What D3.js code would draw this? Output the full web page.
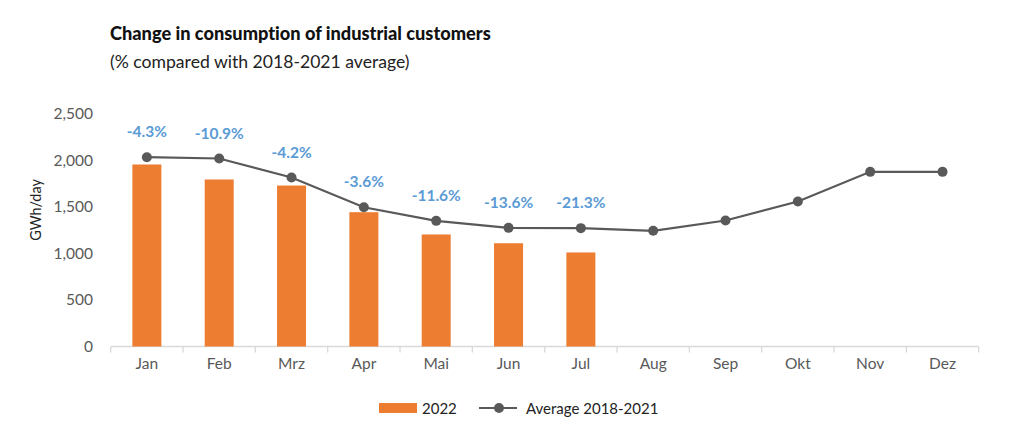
<!DOCTYPE html>
<html>
<head>
<meta charset="utf-8">
<script src="https://cdn.jsdelivr.net/npm/d3@7/dist/d3.min.js"></script>
<style>
  html, body { margin: 0; padding: 0; background: #ffffff; }
  svg { display: block; }
  text { font-variant-ligatures: none; }
</style>
</head>
<body>
<svg id="chart" width="1024" height="440"></svg>
<script>
const months = ["Jan","Feb","Mrz","Apr","Mai","Jun","Jul","Aug","Sep","Okt","Nov","Dez"];
const values2022 = [1953, 1792, 1727, 1441, 1202, 1108, 1009];
const avg20182021 = [2031, 2017, 1813, 1494, 1348, 1273, 1270, 1241, 1352, 1556, 1874, 1874];
const changeLabels = ["-4.3%","-10.9%","-4.2%","-3.6%","-11.6%","-13.6%","-21.3%"];
const yTicks = [0, 500, 1000, 1500, 2000, 2500];

const font = "Lato, 'Open Sans', sans-serif";
const svg = d3.select("#chart");

const x = d3.scaleBand().domain(months).range([110.7, 978.7]).paddingInner(0).paddingOuter(0);
const y = d3.scaleLinear().domain([0, 2500]).range([346.5, 113.5]);

// Title
svg.append("text").attr("x", 110).attr("y", 40)
  .style("font-family", font).style("font-weight", "900").style("font-size", "18.2px")
  .attr("fill", "#111").text("Change in consumption of industrial customers");
svg.append("text").attr("x", 110).attr("y", 68)
  .style("font-family", font).style("font-size", "17.6px")
  .attr("fill", "#222").text("(% compared with 2018-2021 average)");

// Y axis tick labels
const yAxis = d3.axisLeft(y).tickValues(yTicks).tickSize(0).tickPadding(0)
  .tickFormat(d3.format(","));
const gy = svg.append("g").attr("transform", "translate(93,0)").call(yAxis);
gy.select(".domain").remove();
gy.selectAll("text").style("font-family", font).style("font-size", "15.5px").attr("fill", "#595959");

// Y axis title
svg.append("text").attr("transform", "translate(41,210) rotate(-90)")
  .attr("text-anchor", "middle")
  .style("font-family", font).style("font-size", "14.4px").attr("fill", "#222")
  .text("GWh/day");

// X axis
const xAxisG = svg.append("g");
xAxisG.append("line").attr("x1", x.range()[0]).attr("x2", x.range()[1])
  .attr("y1", y(0)).attr("y2", y(0)).attr("stroke", "#d9d9d9").attr("stroke-width", 1.3);
const boundaries = months.map(m => x(m)).concat([x.range()[1]]);
xAxisG.selectAll("line.tick").data(boundaries).join("line").attr("class", "tick")
  .attr("x1", d => d).attr("x2", d => d).attr("y1", y(0)).attr("y2", y(0) + 6)
  .attr("stroke", "#d9d9d9").attr("stroke-width", 1.3);
const xAxis = d3.axisBottom(x).tickSize(0).tickPadding(0);
const gx = svg.append("g").attr("transform", "translate(0," + (y(0) + 11.5) + ")").call(xAxis);
gx.select(".domain").remove();
gx.selectAll("text").attr("dy", "0.71em").style("font-family", font).style("font-size", "15.5px").attr("fill", "#595959");

// Bars
const barW = 29;
svg.append("g").selectAll("rect").data(values2022).join("rect")
  .attr("x", (d, i) => x(months[i]) + x.bandwidth() / 2 - barW / 2)
  .attr("width", barW)
  .attr("y", d => y(d))
  .attr("height", d => y(0) - y(d))
  .attr("fill", "#ED7D31");

// Line
const line = d3.line().x((d, i) => x(months[i]) + x.bandwidth() / 2).y(d => y(d));
svg.append("path").datum(avg20182021).attr("d", line)
  .attr("fill", "none").attr("stroke", "#595959").attr("stroke-width", 2.2);
svg.append("g").selectAll("circle").data(avg20182021).join("circle")
  .attr("cx", (d, i) => x(months[i]) + x.bandwidth() / 2)
  .attr("cy", d => y(d)).attr("r", 5).attr("fill", "#595959");

// Percent labels
svg.append("g").selectAll("text").data(changeLabels).join("text")
  .attr("x", (d, i) => x(months[i]) + x.bandwidth() / 2)
  .attr("y", (d, i) => y(avg20182021[i]) - 20)
  .attr("text-anchor", "middle")
  .style("font-family", font).style("font-weight", "bold").style("font-size", "15.5px")
  .attr("fill", "#5B9BD5").text(d => d);

// Legend
const lg = svg.append("g");
lg.append("rect").attr("x", 379).attr("y", 403).attr("width", 38).attr("height", 10).attr("fill", "#ED7D31");
lg.append("text").attr("x", 422).attr("y", 413.5)
  .style("font-family", font).style("font-size", "15px").attr("fill", "#222").text("2022");
lg.append("line").attr("x1", 479).attr("x2", 517).attr("y1", 408).attr("y2", 408)
  .attr("stroke", "#595959").attr("stroke-width", 2.2);
lg.append("circle").attr("cx", 499).attr("cy", 408).attr("r", 5).attr("fill", "#595959");
lg.append("text").attr("x", 526).attr("y", 413.5)
  .style("font-family", font).style("font-size", "15px").attr("fill", "#222").text("Average 2018-2021");
</script>
</body>
</html>
